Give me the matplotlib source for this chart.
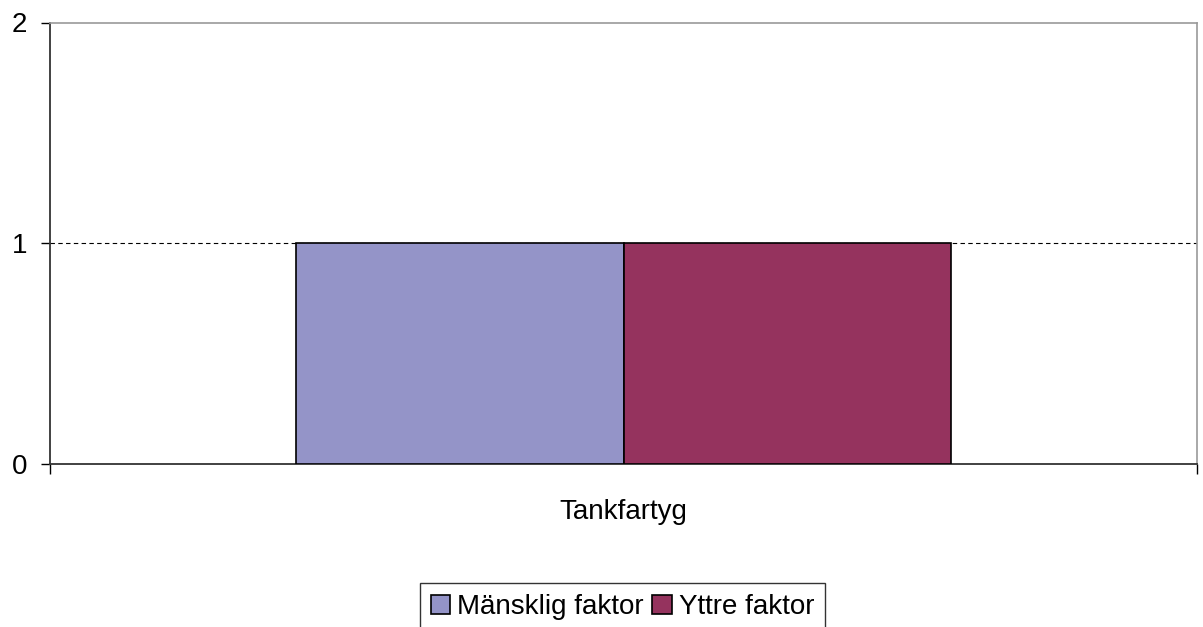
import matplotlib.pyplot as plt
import numpy as np

plt.rcParams['font.family'] = ['Liberation Sans', 'DejaVu Sans']

categories = ['Tankfartyg']
series_names = ['Mänsklig faktor', 'Yttre faktor']
series_values = [[1], [1]]
series_colors = ['#9494C8', '#95335E']
yticks = [0, 1, 2]

fig = plt.figure(figsize=(12.03, 6.27), dpi=100)
ax = fig.add_axes([50 / 1203, 1 - 464 / 627, 1147 / 1203, (464 - 22.5) / 627])

x = np.arange(len(categories))
n = len(series_names)
group = 1 / 1.75  # Excel gap width 75%
w = group / n
for i, (name, vals, col) in enumerate(zip(series_names, series_values, series_colors)):
    ax.bar(x - group / 2 + w * (i + 0.5), vals, width=w, color=col,
           edgecolor='black', linewidth=1.2, label=name, zorder=3)

ax.set_xlim(-0.5, len(categories) - 0.5)
ax.set_ylim(0, 2)
ax.set_yticks(yticks)
ax.tick_params(axis='y', length=6.5, width=1, pad=10, labelsize=20)

ax.set_xticks(x)
ax.set_xticklabels(categories)
ax.tick_params(axis='x', which='major', length=0, pad=25, labelsize=20)
ax.set_xticks(np.arange(len(categories) + 1) - 0.5, minor=True)
ax.tick_params(axis='x', which='minor', length=7, width=1)

for yv in yticks[1:-1]:
    ax.axhline(yv, color='black', linestyle=(0, (4, 3)), linewidth=0.8, zorder=1)

ax.spines['left'].set_color('#333333')
ax.spines['bottom'].set_color('#333333')
ax.spines['left'].set_linewidth(1.3)
ax.spines['bottom'].set_linewidth(1.3)
ax.spines['top'].set_color('#999999')
ax.spines['right'].set_color('#999999')
ax.spines['top'].set_linewidth(1.2)
ax.spines['right'].set_linewidth(1.2)

leg = fig.legend(loc='upper center', bbox_to_anchor=(622.5 / 1203, 1 - 583 / 627),
                 ncol=2, fontsize=20, frameon=True, fancybox=False,
                 edgecolor='black', handlelength=0.7, handleheight=0.7,
                 handletextpad=0.25, columnspacing=0.3, borderpad=0.4,
                 borderaxespad=0)
leg.get_frame().set_linewidth(1.0)

fig.savefig('out.png', dpi=100)
